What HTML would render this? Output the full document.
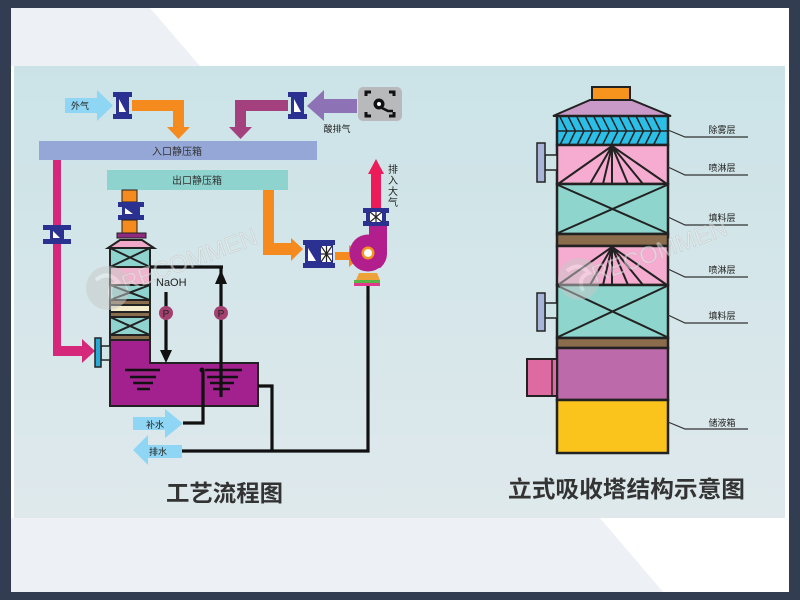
<!DOCTYPE html>
<html><head><meta charset="utf-8"><style>
html,body{margin:0;padding:0;width:800px;height:600px;overflow:hidden;background:#333d52}
svg{display:block}
text{font-family:"Liberation Sans","Noto Sans CJK SC",sans-serif}
</style></head><body>
<svg width="800" height="600" viewBox="0 0 800 600" xmlns="http://www.w3.org/2000/svg">
<defs>
<linearGradient id="pg" x1="0" y1="0" x2="0" y2="1">
<stop offset="0" stop-color="#cbe3e7"/><stop offset="1" stop-color="#dfe9ec"/>
</linearGradient>
</defs>
<rect x="0" y="0" width="800" height="600" fill="#333d52"/>
<rect x="11" y="8" width="778" height="584" fill="#ffffff"/>
<polygon points="11,8 150,8 200,66 11,66" fill="#edf1f6"/>
<polygon points="11,518 600,518 663,592 11,592" fill="#edf1f6"/>
<rect x="14" y="66" width="771" height="452" fill="url(#pg)"/>

<!-- ===== LEFT PROCESS DIAGRAM ===== -->
<rect x="65" y="98" width="33" height="15" fill="#8fd6f4"/>
<polygon points="97,90 113,105.5 97,121" fill="#8fd6f4"/>
<text x="80" y="109" font-size="9" fill="#222" text-anchor="middle">外气</text>
<rect x="113" y="92" width="19" height="5" fill="#2b3190"/>
<rect x="113" y="114" width="19" height="5" fill="#2b3190"/>
<rect x="116" y="97" width="13" height="17" fill="#2b3190"/>
<polygon points="119,99 126,112 119,112" fill="#fff"/>
<rect x="132" y="100" width="52" height="11" fill="#f58a1f"/>
<rect x="173" y="100" width="11" height="28" fill="#f58a1f"/>
<polygon points="167,127 190,127 178.5,139" fill="#f58a1f"/>

<rect x="235" y="100" width="53" height="11" fill="#a5407f"/>
<rect x="235" y="100" width="11" height="28" fill="#a5407f"/>
<polygon points="229,127 252,127 240.5,139" fill="#a5407f"/>
<rect x="288" y="92" width="19" height="5" fill="#2b3190"/>
<rect x="288" y="114" width="19" height="5" fill="#2b3190"/>
<rect x="291" y="97" width="13" height="17" fill="#2b3190"/>
<polygon points="294,99 301,112 294,112" fill="#fff"/>
<rect x="323" y="99" width="34" height="14" fill="#8e72b6"/>
<polygon points="324,90 307,106 324,121" fill="#8e72b6"/>
<rect x="358" y="87" width="44" height="34" rx="5" fill="#b8b9bb"/>
<path d="M366,96 V92 H371 M389,92 H394 V96 M366,112 V116 H371 M394,112 V116 H389" stroke="#111" stroke-width="3" fill="none"/>
<circle cx="379" cy="104" r="5.5" fill="#111"/>
<circle cx="379" cy="104" r="2" fill="#fff"/>
<path d="M382,108 L388,111 H393" stroke="#111" stroke-width="2.5" fill="none"/>
<text x="337" y="132" font-size="9" fill="#222" text-anchor="middle">酸排气</text>

<rect x="39" y="141" width="278" height="19" fill="#94a7d6"/>
<text x="177" y="155" font-size="10" fill="#333" text-anchor="middle">入口静压箱</text>
<rect x="107" y="170" width="181" height="20" fill="#8ed3ce"/>
<text x="197" y="184" font-size="10" fill="#333" text-anchor="middle">出口静压箱</text>

<rect x="53" y="160" width="8" height="196" fill="#d6287a"/>
<rect x="53" y="346" width="31" height="10" fill="#d6287a"/>
<polygon points="82,339 95,351 82,363" fill="#d6287a"/>
<rect x="43" y="225" width="28" height="5" fill="#2b3190"/>
<rect x="43" y="239" width="28" height="5" fill="#2b3190"/>
<rect x="50" y="230" width="14" height="9" fill="#2b3190"/>
<polygon points="53,231 60,238 53,238" fill="#fff"/>

<rect x="263" y="190" width="11" height="65" fill="#f58a1f"/>
<rect x="263" y="243" width="30" height="12" fill="#f58a1f"/>
<polygon points="291,238 303,249 291,261" fill="#f58a1f"/>
<rect x="303" y="240" width="32" height="5" fill="#2b3190"/>
<rect x="303" y="263" width="32" height="5" fill="#2b3190"/>
<rect x="305" y="245" width="28" height="18" fill="#2b3190"/>
<polygon points="308,248 316,261 308,261" fill="#fff"/>
<rect x="321" y="246" width="11" height="16" fill="#fff"/>
<path d="M321,246 L332,262 M332,246 L321,262 M326.5,246 V262 M321,254 H332" stroke="#222" stroke-width="1.2"/>
<rect x="335" y="252" width="15" height="8" fill="#f58a1f"/>
<polygon points="349,245 362,256 349,267" fill="#f58a1f"/>

<rect x="371" y="172" width="10" height="37" fill="#ec1c5b"/>
<polygon points="368,174 376,159 384,174" fill="#ec1c5b"/>
<text font-size="10" fill="#222" text-anchor="middle">
<tspan x="393" y="173">排</tspan><tspan x="393" y="184">入</tspan><tspan x="393" y="195">大</tspan><tspan x="393" y="206">气</tspan></text>
<rect x="369" y="224" width="18" height="30" fill="#b21f8c"/>
<circle cx="368" cy="253" r="18.5" fill="#b21f8c"/>
<path d="M368,253 H387 A19,19 0 0 1 380,268 L368,268 Z" fill="#b21f8c"/>
<rect x="363" y="208" width="26" height="5" fill="#2b3190"/>
<rect x="363" y="221" width="26" height="5" fill="#2b3190"/>
<rect x="366" y="213" width="20" height="8" fill="#2b3190"/>
<rect x="370" y="212" width="12" height="10" fill="#fff"/>
<path d="M370,212 L382,222 M382,212 L370,222 M376,212 V222" stroke="#222" stroke-width="1.2"/>
<circle cx="368" cy="253" r="6.5" fill="#f7941d"/>
<circle cx="368" cy="253" r="4" fill="#fff"/>
<polygon points="359,273 377,273 380,280 356,280" fill="#eda23a"/>
<rect x="354" y="280" width="26" height="3" fill="#5bb346"/>
<rect x="354" y="283" width="26" height="3" fill="#e2378c"/>

<rect x="122" y="190" width="15" height="12" fill="#f58a1f" stroke="#222" stroke-width="1"/>
<rect x="118" y="202" width="26" height="5" fill="#2b3190"/>
<rect x="118" y="215" width="26" height="5" fill="#2b3190"/>
<rect x="122" y="207" width="18" height="8" fill="#2b3190"/>
<polygon points="125,208 133,214 125,214" fill="#fff"/>
<rect x="122" y="220" width="15" height="13" fill="#f58a1f" stroke="#222" stroke-width="1"/>
<rect x="117" y="233" width="29" height="5" fill="#8e2a7f" stroke="#222" stroke-width="1"/>
<polygon points="120,240 142,240 154,248 108,248" fill="#f1a9c9" stroke="#222" stroke-width="2"/>
<g stroke="#222" stroke-width="2">
<rect x="110" y="248" width="40" height="19" fill="#8fd3cf"/>
<path d="M110,248 L150,267 M150,248 L110,267"/>
<rect x="110" y="267" width="40" height="18" fill="#f1b5cf"/>
<rect x="110" y="285" width="40" height="15" fill="#8fd3cf"/>
<path d="M110,285 L150,300 M150,285 L110,300"/>
<rect x="110" y="300" width="40" height="5" fill="#8a6d4d"/>
<rect x="110" y="305" width="40" height="7" fill="#f5eccb"/>
<rect x="110" y="312" width="40" height="5" fill="#8a6d4d"/>
<rect x="110" y="317" width="40" height="18" fill="#8fd3cf"/>
<path d="M110,317 L150,335 M150,317 L110,335"/>
<rect x="110" y="335" width="40" height="5" fill="#8a6d4d"/>
</g>
<path d="M110,340 H150 V363 H258 V406 H110 Z" fill="#a3208f" stroke="#222" stroke-width="2"/>
<rect x="101" y="346" width="9" height="14" fill="#cfe5e8" stroke="#222" stroke-width="1.5"/>
<rect x="95" y="338" width="6" height="29" fill="#29a9d6" stroke="#222" stroke-width="1.5"/>
<g stroke="#111" stroke-width="2.5">
<path d="M125,370 H160 M130,377 H156 M133,383 H153 M137,389 H150"/>
<path d="M205,370 H242 M207,377 H238 M210,383 H234 M213,389 H230"/>
</g>
<g stroke="#111" stroke-width="3.2" fill="none">
<path d="M150,267 H223"/>
<path d="M221,267 V397"/>
<path d="M166,292 V352"/>
<path d="M183,423 H203 V370"/>
<path d="M258,386 H272 V451"/>
<path d="M182,451 H368 V286"/>
</g>
<polygon points="215,284 227,284 221,270" fill="#111"/>
<polygon points="160,350 172,350 166,363" fill="#111"/>
<circle cx="202" cy="370" r="2.5" fill="#111"/>
<circle cx="166" cy="313" r="7" fill="#a3406f"/>
<text x="166" y="317" font-size="10" fill="#222" text-anchor="middle">P</text>
<circle cx="221" cy="313" r="7" fill="#a3406f"/>
<text x="221" y="317" font-size="10" fill="#222" text-anchor="middle">P</text>
<text x="156" y="286" font-size="11" fill="#222">NaOH</text>
<rect x="133" y="417" width="33" height="13" fill="#8fd6f4"/>
<polygon points="165,409 183,423.5 165,438" fill="#8fd6f4"/>
<text x="155" y="428" font-size="9" fill="#222" text-anchor="middle">补水</text>
<rect x="147" y="445" width="35" height="13" fill="#8fd6f4"/>
<polygon points="148,435 133,450 148,465" fill="#8fd6f4"/>
<text x="158" y="455" font-size="9" fill="#222" text-anchor="middle">排水</text>

<!-- ===== RIGHT TOWER ===== -->
<rect x="592" y="87" width="38" height="14" fill="#f7941d" stroke="#222" stroke-width="2"/>
<polygon points="553,116 590,100 632,100 671,116" fill="#c99ac8" stroke="#222" stroke-width="2"/>
<g stroke="#222" stroke-width="2.5">
<rect x="557" y="116" width="111" height="29" fill="#2bbfe8"/>
<rect x="557" y="145" width="111" height="39" fill="#f5acd0"/>
<rect x="557" y="184" width="111" height="50" fill="#8ed5cd"/>
<rect x="557" y="234" width="111" height="12" fill="#8b6c4c"/>
<rect x="557" y="246" width="111" height="39" fill="#f5acd0"/>
<rect x="557" y="285" width="111" height="53" fill="#8ed5cd"/>
<rect x="557" y="338" width="111" height="10" fill="#8b6c4c"/>
<rect x="557" y="348" width="111" height="52" fill="#bc6aaa"/>
<rect x="557" y="400" width="111" height="53" fill="#fbc41c"/>
</g>
<g stroke="#222" stroke-width="1.5" fill="none">
<path d="M557,131 H668"/>
<path d="M560,117 L567,131 M568.5,117 L575.5,131 M577,117 L584,131 M585.5,117 L592.5,131 M594,117 L601,131 M602.5,117 L609.5,131 M611,117 L618,131 M619.5,117 L626.5,131 M628,117 L635,131 M636.5,117 L643.5,131 M645,117 L652,131 M653.5,117 L660.5,131"/>
<path d="M567,131 L560,145 M575.5,131 L568.5,145 M584,131 L577,145 M592.5,131 L585.5,145 M601,131 L594,145 M609.5,131 L602.5,145 M618,131 L611,145 M626.5,131 L619.5,145 M635,131 L628,145 M643.5,131 L636.5,145 M652,131 L645,145 M660.5,131 L653.5,145"/>
</g>
<g stroke="#222" stroke-width="2" fill="none">
<path d="M612,146 L558,184 M612,146 L590,184 M612,146 L603,184 M612,146 V184 M612,146 L628,184 M612,146 L643,184 M612,146 L667,184"/>
<path d="M558,185 L667,233 M667,185 L558,233"/>
<path d="M612,247 L558,285 M612,247 L590,285 M612,247 L603,285 M612,247 V285 M612,247 L628,285 M612,247 L643,285 M612,247 L667,285"/>
<path d="M558,286 L667,337 M667,286 L558,337"/>
</g>
<rect x="545" y="155" width="12" height="15" fill="#cfe5e8" stroke="#222" stroke-width="1.5"/>
<rect x="537" y="143" width="8" height="39" fill="#a8b3d8" stroke="#222" stroke-width="1.5"/>
<rect x="545" y="303" width="12" height="15" fill="#cfe5e8" stroke="#222" stroke-width="1.5"/>
<rect x="537" y="293" width="8" height="38" fill="#a8b3d8" stroke="#222" stroke-width="1.5"/>
<rect x="527" y="359" width="30" height="37" fill="#dd6aa0" stroke="#222" stroke-width="2"/>
<path d="M552,359 V396" stroke="#222" stroke-width="1.5"/>
<g stroke="#333" stroke-width="1.2" fill="none">
<path d="M668,130 L685,137 H748"/>
<path d="M668,167 L685,175 H748"/>
<path d="M668,217 L685,225 H748"/>
<path d="M668,269 L685,277 H748"/>
<path d="M668,315 L685,323 H748"/>
<path d="M668,422 L685,429 H748"/>
</g>
<g font-size="9" fill="#222" text-anchor="middle">
<text x="722" y="133">除雾层</text>
<text x="722" y="171">喷淋层</text>
<text x="722" y="221">填料层</text>
<text x="722" y="273">喷淋层</text>
<text x="722" y="319">填料层</text>
<text x="722" y="426">储液箱</text>
</g>

<!-- watermark -->
<g opacity="0.5">
<circle cx="108" cy="288" r="22" fill="#c9c9c9"/>
<path d="M96,280 Q108,270 118,282 Q106,286 112,300" stroke="#eeeeee" stroke-width="4" fill="none"/>
<text x="125" y="292" font-size="24" fill="#eeeeee" stroke="#bbbbbb" stroke-width="0.6" transform="rotate(-20 125 292)">RECOMMEN</text>
<circle cx="579" cy="279" r="21" fill="#c9c9c9"/>
<path d="M567,271 Q579,261 589,273 Q577,277 583,291" stroke="#eeeeee" stroke-width="4" fill="none"/>
<text x="595" y="283" font-size="24" fill="#eeeeee" stroke="#bbbbbb" stroke-width="0.6" transform="rotate(-20 595 283)">RECOMMEN</text>
</g>

<text x="166" y="501" font-size="23" font-weight="bold" fill="#333" textLength="117" lengthAdjust="spacingAndGlyphs">工艺流程图</text>
<text x="508" y="497" font-size="23" font-weight="bold" fill="#333" textLength="237" lengthAdjust="spacingAndGlyphs">立式吸收塔结构示意图</text>
</svg>
</body></html>
